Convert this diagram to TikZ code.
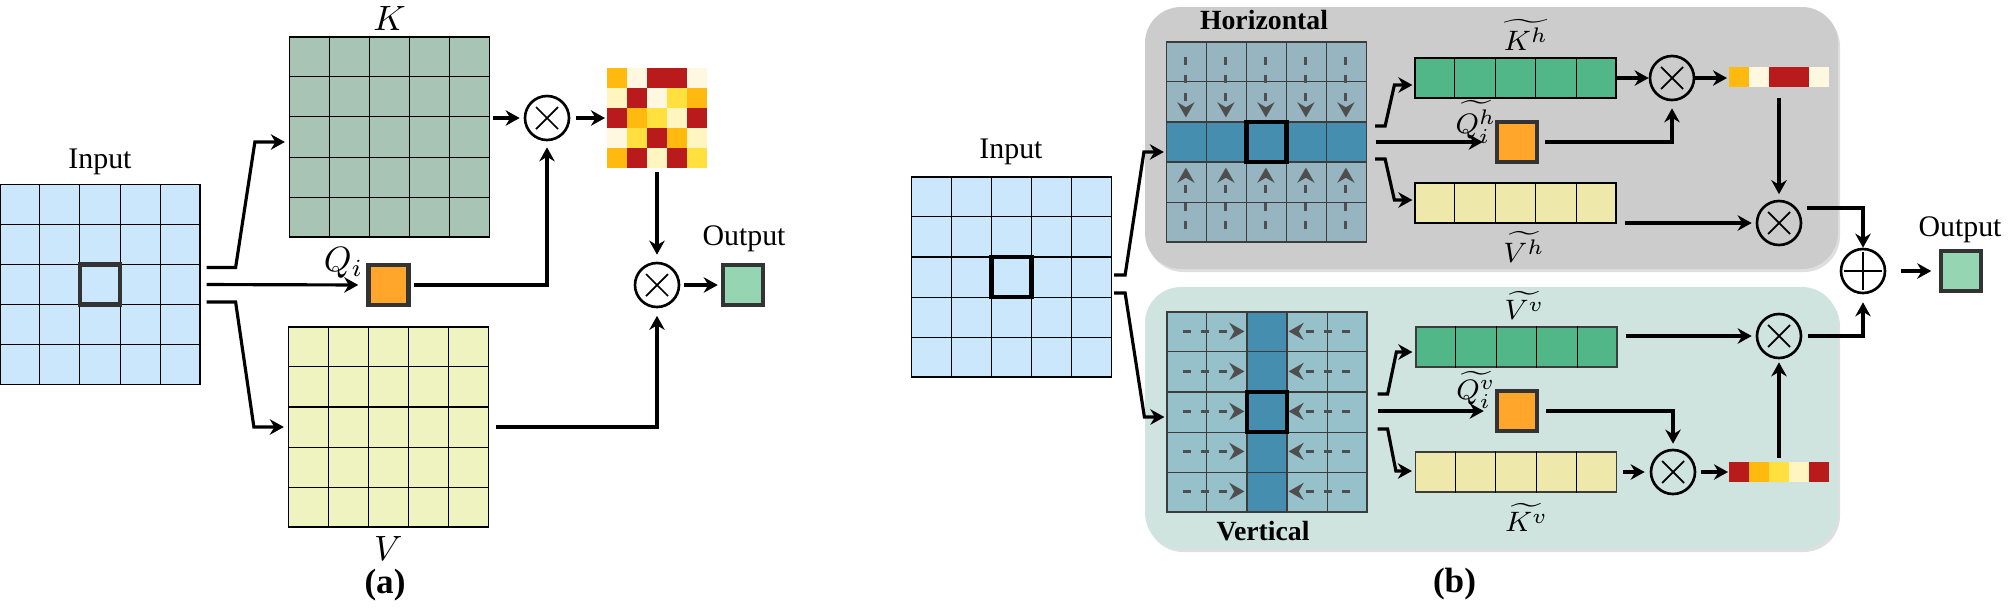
\documentclass[tikz,border=0pt]{standalone}
\usepackage{amsmath}
\usepackage{fontspec}
\setmainfont{Liberation Serif}
\usepackage{tikz}
\usetikzlibrary{positioning, calc, arrows.meta, shadows}
\definecolor{inblue}{RGB}{202,231,252}
\definecolor{kgrey}{RGB}{167,196,181}
\definecolor{vpale}{RGB}{239,243,192}
\definecolor{qorange}{RGB}{255,166,43}
\definecolor{outgreen}{RGB}{149,213,178}
\definecolor{boxdark}{RGB}{51,51,51}
\definecolor{gridgray}{RGB}{60,60,60}
\definecolor{hlight}{RGB}{151,181,193}
\definecolor{vlight}{RGB}{150,193,202}
\definecolor{hdark}{RGB}{70,142,176}
\definecolor{kbar}{RGB}{82,183,136}
\definecolor{vbar}{RGB}{238,232,170}
\definecolor{panelgray}{RGB}{204,204,204}
\definecolor{panelteal}{RGB}{207,228,223}
\definecolor{flowgray}{RGB}{78,78,78}
\definecolor{hmO}{RGB}{255,185,15}
\definecolor{hmC}{RGB}{255,248,225}
\definecolor{hmR}{RGB}{185,27,29}
\definecolor{hmY}{RGB}{255,224,63}
\definecolor{hmP}{RGB}{255,245,192}

\begin{document}
\begin{tikzpicture}[
    x=0.1mm, y=-0.1mm,
    >={Stealth[length=4pt, width=4.4pt]},
    arrow/.style={->, line width=0.9pt},
    flow/.style={->, draw=flowgray, line width=0.8pt, dash pattern=on 0.8mm off 1mm, >={Stealth[length=1.5mm, width=1.7mm]}},
    fmap/.style={rectangle, draw=black, line width=0.35pt, minimum width=20mm, minimum height=20mm, inner sep=0pt},
    strip/.style={rectangle, draw=black, line width=0.35pt, minimum width=20.1mm, minimum height=4mm, inner sep=0pt},
    cellline/.style={line width=0.35pt},
    selcell/.style={rectangle, draw=#1, line width=0.45mm, minimum size=4mm, inner sep=0pt},
    token/.style={rectangle, draw=boxdark, line width=0.45mm, minimum size=4mm, inner sep=0pt},
    attmap/.style={rectangle, inner sep=0pt, outer sep=0pt},
    mul/.style={circle, draw=black, line width=0.75pt, minimum size=4.4mm, inner sep=0pt,
        path picture={\draw[line width=0.5pt]
            ([shift={(-1.1mm,-1.1mm)}]path picture bounding box.center) -- ([shift={(1.1mm,1.1mm)}]path picture bounding box.center)
            ([shift={(-1.1mm,1.1mm)}]path picture bounding box.center) -- ([shift={(1.1mm,-1.1mm)}]path picture bounding box.center);}},
    addop/.style={circle, draw=black, line width=0.75pt, minimum size=4.4mm, inner sep=0pt,
        path picture={\draw[line width=0.6pt]
            ([xshift=-1.9mm]path picture bounding box.center) -- ([xshift=1.9mm]path picture bounding box.center)
            ([yshift=-1.9mm]path picture bounding box.center) -- ([yshift=1.9mm]path picture bounding box.center);}},
    panel/.style={rectangle, rounded corners=3.6mm, minimum width=69.3mm, minimum height=26.2mm, inner sep=0pt,
        drop shadow={shadow xshift=0.2mm, shadow yshift=-0.3mm, opacity=0.25}},
    txt/.style={font=\fontsize{8.5}{10}\selectfont, inner sep=1pt},
    mathbig/.style={font=\fontsize{10.4}{12}\selectfont, inner sep=0.5pt},
    mathsmall/.style={font=\fontsize{8.2}{9}\selectfont, inner sep=0.5pt},
    ptitle/.style={font=\fontsize{7.9}{9}\selectfont\bfseries, inner sep=1pt},
    tag/.style={font=\fontsize{10}{12}\selectfont\bfseries, inner sep=1pt}
]
    \useasboundingbox (0,0) rectangle (2010,608);

    % Panels of (b)
    \node[panel, fill=panelgray] (hpanel) at (1491.5,138) {};
    \node[panel, fill=panelteal] (vpanel) at (1491.5,418) {};

    % Feature maps
    \node[fmap, fill=inblue] (inpA) at (100,284.5) {};
    \node[fmap, fill=kgrey] (KA) at (389.5,137) {};
    \node[fmap, fill=vpale] (VA) at (388.5,427) {};
    \node[fmap, fill=inblue] (inpB) at (1011.5,277) {};
    \node[fmap, fill=hlight, draw=gridgray] (Hgrid) at (1266.5,142) {};
    \node[rectangle, fill=hdark, draw=gridgray, line width=0.35pt, minimum width=20mm, minimum height=4mm, inner sep=0pt] (Hrow) at (Hgrid.center) {};
    \node[fmap, fill=vlight, draw=gridgray] (Vgrid) at (1267,412) {};
    \node[rectangle, fill=hdark, draw=gridgray, line width=0.35pt, minimum width=4mm, minimum height=20mm, inner sep=0pt] (Vcol) at (Vgrid.center) {};

    % Cell lines
    \foreach \m in {inpA,KA,VA,inpB}
        \foreach \k in {1,...,4}{
            \draw[cellline] ($(\m.north west)!\k/5!(\m.north east)$) -- ($(\m.south west)!\k/5!(\m.south east)$);
            \draw[cellline] ($(\m.north west)!\k/5!(\m.south west)$) -- ($(\m.north east)!\k/5!(\m.south east)$);
        }
    \foreach \m in {Hgrid,Vgrid}
        \foreach \k in {1,...,4}{
            \draw[cellline, gridgray] ($(\m.north west)!\k/5!(\m.north east)$) -- ($(\m.south west)!\k/5!(\m.south east)$);
            \draw[cellline, gridgray] ($(\m.north west)!\k/5!(\m.south west)$) -- ($(\m.north east)!\k/5!(\m.south east)$);
        }

    % Query positions
    \node[selcell=boxdark] (selA) at (inpA.center) {};
    \node[selcell=black] (selB) at (inpB.center) {};
    \node[selcell=black] (selH) at (Hgrid.center) {};
    \node[selcell=black] (selV) at (Vgrid.center) {};

    % Dashed flows inside the grids
    \foreach \k in {0,...,4}{
        \draw[flow] ($(Hgrid.north west)+(20+40*\k,16)$) -- ++(0,60);
        \draw[flow] ($(Hgrid.south west)+(20+40*\k,-14)$) -- ++(0,-61);
        \draw[flow] ($(Vgrid.north west)+(17,20+40*\k)$) -- ++(61,0);
        \draw[flow] ($(Vgrid.north east)+(-18,20+40*\k)$) -- ++(-61,0);
    }

    % Vectors of (b)
    \node[strip, fill=kbar] (Kh) at (1515.5,78) {};
    \node[token, fill=qorange] (Qh) at (1517,142) {};
    \node[strip, fill=vbar] (Vh) at (1515.5,203) {};
    \node[strip, fill=kbar, draw=gridgray] (Vv) at (1516.5,347) {};
    \node[token, fill=qorange] (Qv) at (1517,411) {};
    \node[strip, fill=vbar, draw=gridgray] (Kv) at (1516,472) {};
    \foreach \m in {Kh,Vh,Vv,Kv}
        \foreach \k in {1,...,4}
            \draw[cellline] ($(\m.north west)!\k/5!(\m.north east)$) -- ($(\m.south west)!\k/5!(\m.south east)$);

    % Tokens of (a) and outputs
    \node[token, fill=qorange] (QA) at (388.5,285) {};
    \node[token, fill=outgreen] (outA) at (743,285) {};
    \node[token, fill=outgreen] (outB) at (1961,271) {};

    % Operators
    \node[mul] (mulA1) at (547,118) {};
    \node[mul] (mulA2) at (657,285) {};
    \node[mul] (mulH1) at (1672,78) {};
    \node[mul] (mulH2) at (1779,223) {};
    \node[mul] (mulV1) at (1673,472) {};
    \node[mul] (mulV2) at (1779,336) {};
    \node[addop] (addB) at (1863,271) {};

    % Attention maps
    \node[attmap, minimum size=10mm] (attA) at (657,118) {};
    \node[attmap, minimum width=10mm, minimum height=2mm] (attH) at (1779,77) {};
    \node[attmap, minimum width=10mm, minimum height=2mm] (attV) at (1779,472) {};
    \foreach \row [count=\j from 0] in {{hmO,hmC,hmR,hmR,hmC},{hmP,hmR,hmC,hmY,hmO},{hmR,hmO,hmY,hmP,hmR},{hmC,hmY,hmR,hmO,hmP},{hmO,hmR,hmP,hmR,hmY}}
        \foreach \c [count=\i from 0] in \row
            \fill[\c] ($(attA.north west)+(20*\i,20*\j)$) rectangle ++(20,20);
    \foreach \c [count=\i from 0] in {hmO,hmC,hmR,hmR,hmC}
        \fill[\c] ($(attH.north west)+(20*\i,0)$) rectangle ++(20,20);
    \foreach \c [count=\i from 0] in {hmR,hmO,hmY,hmP,hmR}
        \fill[\c] ($(attV.north west)+(20*\i,0)$) rectangle ++(20,20);

    % Labels
    \node[txt] (inpAlab) at (100,162) {Input};
    \node[mathbig] (KAlab) at (389.6,18) {$K$};
    \node[mathbig] (VAlab) at (388.4,548) {$V$};
    \node[mathbig] (QAlab) at (343.7,263) {$Q_i$};
    \node[txt] (outAlab) at (744,239) {Output};
    \node[tag] (taga) at (385,585) {(a)};
    \node[txt] (inpBlab) at (1011,152) {Input};
    \node[ptitle] (hlab) at (1264,20) {Horizontal};
    \node[ptitle] (vlab) at (1263,531) {Vertical};
    \node[mathsmall] (Khlab) at (1526,35) {$\widetilde{K^h}$};
    \node[mathsmall] (Qhlab) at (1476,122) {$\widetilde{Q_i^h}$};
    \node[mathsmall] (Vhlab) at (1524,247) {$\widetilde{V^h}$};
    \node[mathsmall] (Vvlab) at (1524.5,305) {$\widetilde{V^v}$};
    \node[mathsmall] (Qvlab) at (1476,390) {$\widetilde{Q_i^v}$};
    \node[mathsmall] (Kvlab) at (1526.5,517) {$\widetilde{K^v}$};
    \node[txt] (outBlab) at (1960,230) {Output};
    \node[tag] (tagb) at (1454.5,584) {(b)};

    % Connections (a)
    \coordinate (aup) at ($(inpA.east)+(6,-17)$);
    \coordinate (adown) at ($(inpA.east)+(6,17.5)$);
    \draw[arrow, shorten >=0.4mm] (aup) -- ++(29,0) -- ($(KA.west)+(-34,5)$) -- ($(KA.west)+(0,5)$);
    \draw[arrow, shorten <=0.6mm, shorten >=0.8mm] (inpA.east) -- (QA.west);
    \draw[arrow, shorten >=0.4mm] (adown) -- ++(29,0) -- ($(VA.west)+(-34,0)$) -- (VA.west);
    \draw[arrow, shorten <=0.3mm, shorten >=0.4mm] (KA.east |- mulA1) -- (mulA1.west);
    \draw[arrow, shorten <=0.3mm, shorten >=0.6mm] (QA.east) -| (mulA1.south);
    \draw[arrow, shorten <=0.6mm, shorten >=0.2mm] (mulA1.east) -- (attA.west);
    \draw[arrow, shorten <=0.4mm, shorten >=0.7mm] (attA.south) -- (mulA2.north);
    \draw[arrow, shorten <=0.7mm, shorten >=0.75mm] (VA.east) -| (mulA2.south);
    \draw[arrow, shorten <=0.4mm, shorten >=0.3mm] (mulA2.east) -- (outA.west);

    % Connections (b)
    \coordinate (bup) at ($(inpB.east)+(2,-2)$);
    \coordinate (bdown) at ($(inpB.east)+(2,16)$);
    \draw[arrow, shorten >=0.2mm] (bup) -- ++(11,0) -- ($(Hgrid.west)+(-22,10)$) -- ($(Hgrid.west)+(0,10)$);
    \draw[arrow, shorten >=0.2mm] (bdown) -- ++(11,0) -- ($(Vgrid.west)+(-22,5)$) -- ($(Vgrid.west)+(0,5)$);

    \coordinate (hup) at ($(Hgrid.east)+(8,-16)$);
    \coordinate (hdown) at ($(Hgrid.east)+(8,17)$);
    \draw[arrow, shorten >=0.2mm] (hup) -- ++(10,0) -- ($(Kh.west)+(-20,7)$) -- ($(Kh.west)+(0,7)$);
    \draw[arrow, shorten <=0.85mm, shorten >=1.2mm] (Hgrid.east |- Qh) -- (Qh.west);
    \draw[arrow, shorten >=0.2mm] (hdown) -- ++(10,0) -- ($(Vh.west)+(-20,-3)$) -- ($(Vh.west)+(0,-3)$);

    \coordinate (vup) at ($(Vgrid.east)+(10,-18)$);
    \coordinate (vdown) at ($(Vgrid.east)+(10,17)$);
    \draw[arrow, shorten >=0.3mm] (vup) -- ++(10,0) -- ($(Vv.west)+(-19,5)$) -- ($(Vv.west)+(0,5)$);
    \draw[arrow, shorten <=1mm, shorten >=1.1mm] (Vgrid.east |- Qv) -- (Qv.west);
    \draw[arrow, shorten >=0.3mm] (vdown) -- ++(10,0) -- ($(Kv.west)+(-19,-1)$) -- ($(Kv.west)+(0,-1)$);

    \draw[arrow] (Kh.east) -- (mulH1.west);
    \draw[arrow, shorten >=0.2mm] (mulH1.east) -- (mulH1.east -| attH.west);
    \draw[arrow, shorten <=0.6mm, shorten >=0.7mm] (Qh.east) -| (mulH1.south);
    \draw[arrow, shorten <=1.1mm, shorten >=0.55mm] (attH.south) -- (mulH2.north);
    \draw[arrow, shorten <=0.8mm, shorten >=0.4mm] (Vh.east |- mulH2) -- (mulH2.west);
    \draw[arrow, shorten <=1mm] (mulH2.40) -| (addB.north);

    \draw[arrow, shorten <=0.6mm, shorten >=0.5mm] (Kv.east) -- (mulV1.west);
    \draw[arrow, shorten <=0.45mm, shorten >=0.1mm] (mulV1.east) -- (attV.west);
    \draw[arrow, shorten <=0.7mm, shorten >=0.5mm] (Qv.east) -| (mulV1.north);
    \draw[arrow, shorten <=0.4mm, shorten >=0.3mm] (attV.north) -- (mulV2.south);
    \draw[arrow, shorten <=0.8mm, shorten >=0.4mm] (Vv.east |- mulV2) -- (mulV2.west);
    \draw[arrow, shorten <=0.55mm, shorten >=0.8mm] (mulV2.east) -| (addB.south);
    \draw[arrow, shorten <=1.45mm, shorten >=0.75mm] (addB.east) -- (outB.west);

\end{tikzpicture}
\end{document}
